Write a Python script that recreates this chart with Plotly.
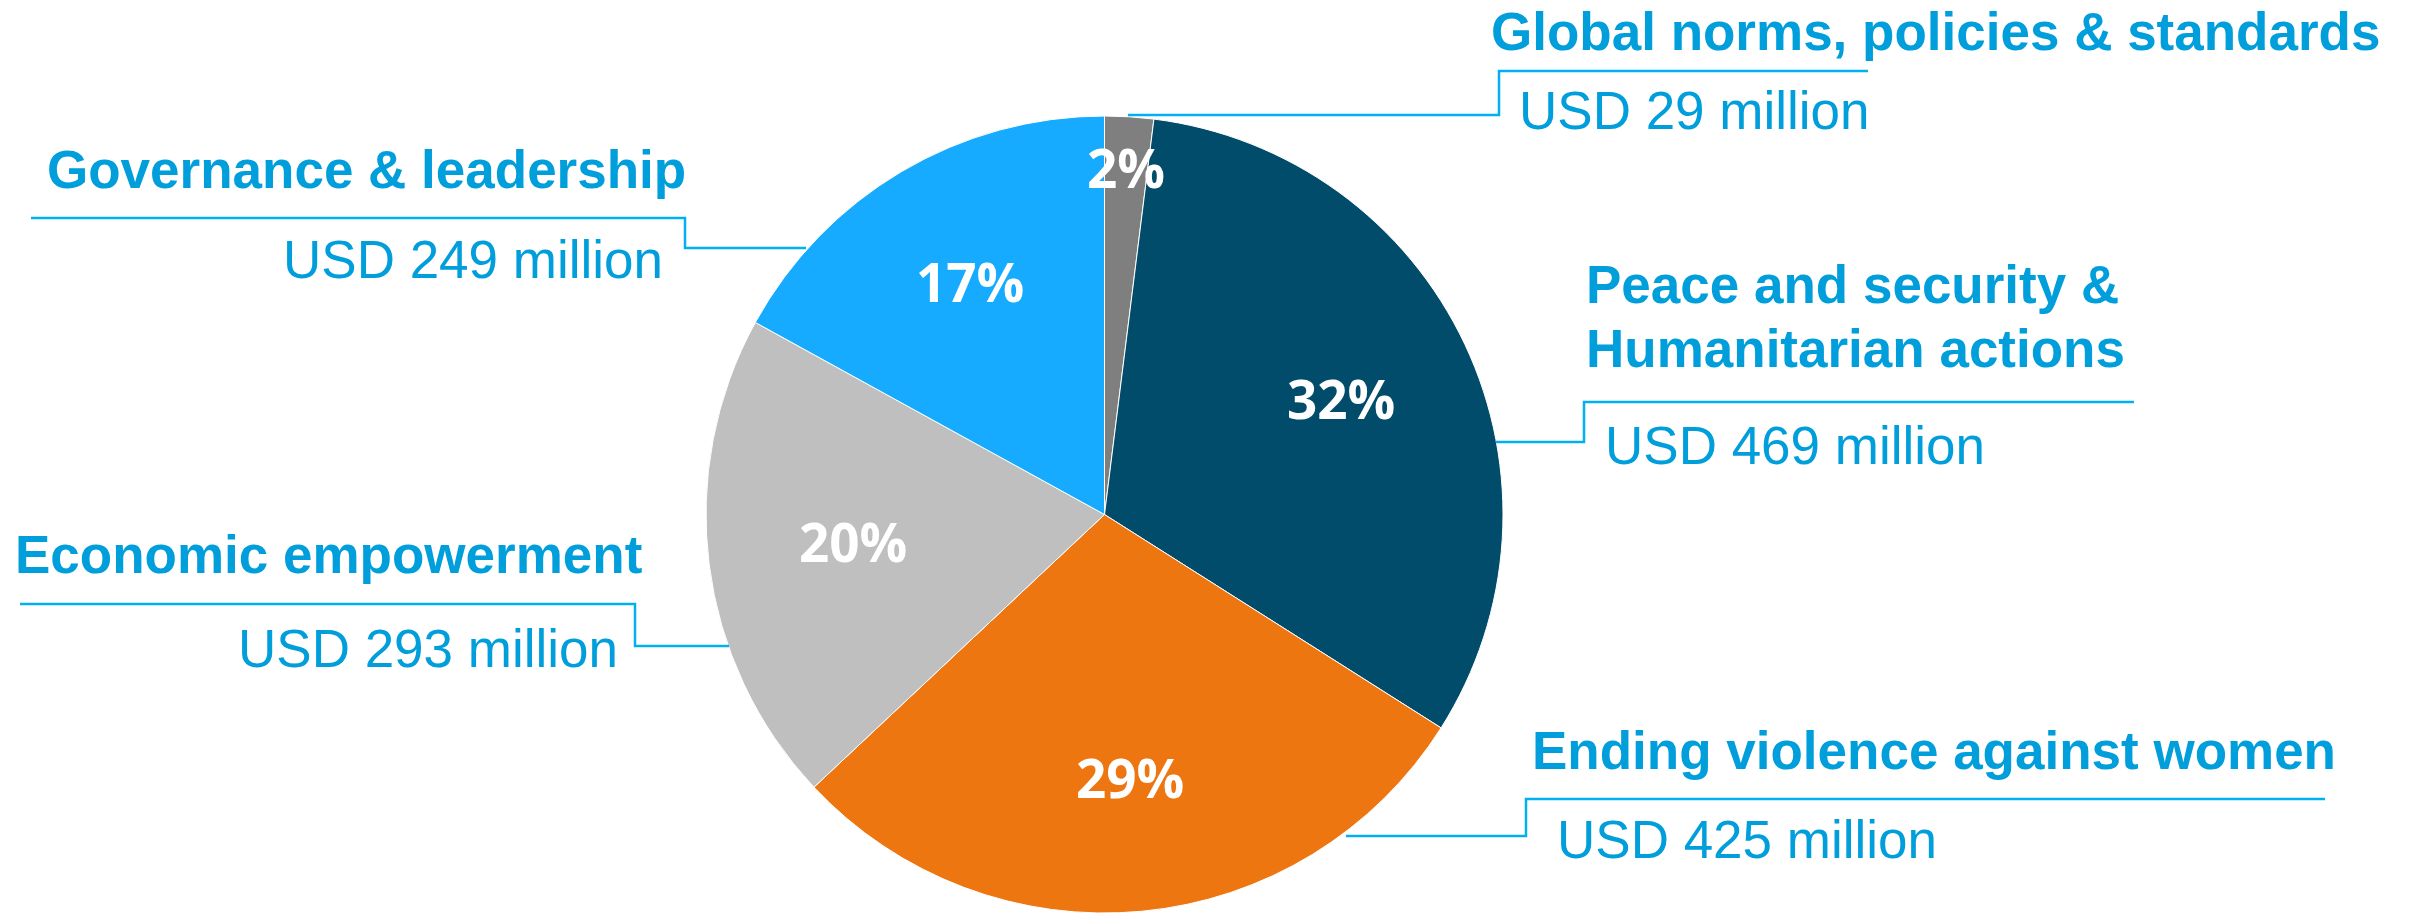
import math
import plotly.graph_objects as go

# ---- data ----
categories = [
    "Global norms, policies & standards",
    "Peace and security & Humanitarian actions",
    "Ending violence against women",
    "Economic empowerment",
    "Governance & leadership",
]
values_musd = [29, 469, 425, 293, 249]
slice_colors = ["#7F7F7F", "#024C6B", "#EE7611", "#BFBFBF", "#16ABFF"]

# ---- style / layout constants (pixels) ----
W, H = 2417, 914
CX, CY, R = 1104.5, 514.5, 398.5
label_radius_frac = [0.86, 0.655, 0.675, 0.635, 0.665]
LABEL_DY = -5
TEXT_DY = 2
TEXT_BLUE = "#009EDB"
LINE_BLUE = "#00B0F0"
FS = 53


def px(x):
    return x / W


def py(y):
    return 1 - y / H


fig = go.Figure()
fig.add_trace(go.Pie(
    labels=categories,
    values=values_musd,
    sort=False,
    direction="clockwise",
    rotation=0,
    marker=dict(colors=slice_colors, line=dict(color="white", width=1)),
    textinfo="none",
    hoverinfo="label+value+percent",
    showlegend=False,
    domain=dict(x=[px(CX - R), px(CX + R)], y=[py(CY + R), py(CY - R)]),
))

annotations = []
total = sum(values_musd)
cum = 0
for v, f in zip(values_musd, label_radius_frac):
    mid = (cum + v / 2) / total
    cum += v
    th = 2 * math.pi * mid
    x = CX + f * R * math.sin(th)
    y = CY - f * R * math.cos(th) + LABEL_DY
    annotations.append(dict(
        x=px(x), y=py(y), xref="paper", yref="paper",
        text=f"{round(v / total * 100)}%", showarrow=False,
        xanchor="center", yanchor="middle", borderpad=0,
        font=dict(family="Open Sans", size=53, color="white", weight="bold"),
    ))

# callout texts: (text, x_px, cap-center y_px, anchor, bold)
callouts = [
    ("Global norms, policies & standards", 1490, 29.5, "left", True),
    (f"USD {values_musd[0]} million", 1518, 109, "left", False),
    ("Peace and security &", 1585, 282, "left", True),
    ("Humanitarian actions", 1585, 346, "left", True),
    (f"USD {values_musd[1]} million", 1604, 444, "left", False),
    ("Ending violence against women", 1531, 748.5, "left", True),
    (f"USD {values_musd[2]} million", 1556, 837.5, "left", False),
    ("Economic empowerment", 643, 552, "right", True),
    (f"USD {values_musd[3]} million", 619, 646, "right", False),
    ("Governance & leadership", 687, 167.5, "right", True),
    (f"USD {values_musd[4]} million", 664, 257.5, "right", False),
]
for text, x, y, anc, bold in callouts:
    annotations.append(dict(
        x=px(x), y=py(y + TEXT_DY), xref="paper", yref="paper", text=text,
        showarrow=False, xanchor=anc, yanchor="middle", borderpad=0,
        font=dict(family="Liberation Sans, Arial", size=FS, color=TEXT_BLUE,
                  weight="bold" if bold else "normal"),
    ))

# leader lines (pixel polylines)
leaders = [
    [(1128, 115), (1499, 115), (1499, 71), (1868, 71)],
    [(806, 248), (685, 248), (685, 218), (31, 218)],
    [(1496, 442), (1584, 442), (1584, 402), (2134, 402)],
    [(729, 646), (635, 646), (635, 604), (20, 604)],
    [(1346, 836), (1526, 836), (1526, 799), (2325, 799)],
]
shapes = []
for pts in leaders:
    path = "M " + " L ".join(f"{px(a):.5f},{py(b):.5f}" for a, b in pts)
    shapes.append(dict(type="path", path=path, xref="paper", yref="paper",
                       line=dict(color=LINE_BLUE, width=2.5)))

fig.update_layout(
    width=W, height=H,
    margin=dict(l=0, r=0, t=0, b=0),
    paper_bgcolor="white", plot_bgcolor="white",
    annotations=annotations, shapes=shapes,
)

fig.write_html("out.html", config={"displayModeBar": False},
               post_script="document.body.style.margin='0';")
